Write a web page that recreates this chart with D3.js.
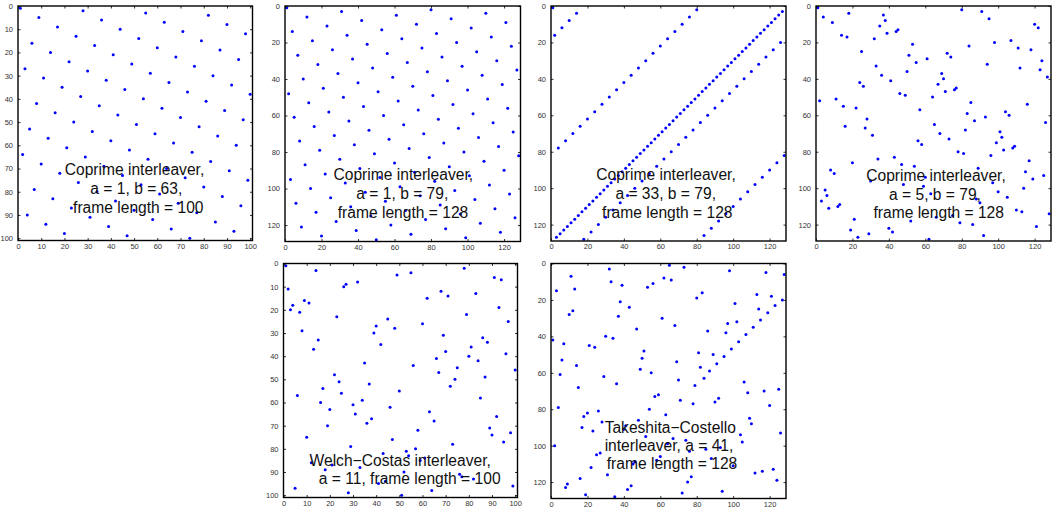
<!DOCTYPE html>
<html><head><meta charset="utf-8">
<script src="https://cdn.jsdelivr.net/npm/d3@7"></script>
<style>
html,body{margin:0;padding:0;background:#fff;}
svg{display:block;}
</style></head><body>
<svg id="chart" width="1056" height="509"></svg>
<script>
// Tick values for the two frame lengths
const ticks100 = [0,10,20,30,40,50,60,70,80,90,100];
const ticks128 = [0,20,40,60,80,100,120];

// Coprime interleaver a=1, b=63, N=100: row of the entry in each column 1..100
const coprime1_63 = [
 1,64,27,90,53,16,79,42,5,68,
 31,94,57,20,83,46,9,72,35,98,
 61,24,87,50,13,76,39,2,65,28,
 91,54,17,80,43,6,69,32,95,58,
 21,84,47,10,73,36,99,62,25,88,
 51,14,77,40,3,66,29,92,55,18,
 81,44,7,70,33,96,59,22,85,48,
 11,74,37,100,63,26,89,52,15,78,
 41,4,67,30,93,56,19,82,45,8,
 71,34,97,60,23,86,49,12,75,38];

// Coprime interleaver a=1, b=79, N=128: row for each column 1..128
const coprime1_79 = [
 1,48,95,14,61,108,27,74,121,40,
 87,6,53,100,19,66,113,32,79,126,
 45,92,11,58,105,24,71,118,37,84,
 3,50,97,16,63,110,29,76,123,42,
 89,8,55,102,21,68,115,34,81,128,
 47,94,13,60,107,26,73,120,39,86,
 5,52,99,18,65,112,31,78,125,44,
 91,10,57,104,23,70,117,36,83,2,
 49,96,15,62,109,28,75,122,41,88,
 7,54,101,20,67,114,33,80,127,46,
 93,12,59,106,25,72,119,38,85,4,
 51,98,17,64,111,30,77,124,43,90,
 9,56,103,22,69,116,35,82];

// Coprime interleaver a=33, b=79, N=128: column for each row 1..128
const coprime33_79 = [
 1,80,127,14,125,76,123,10,121,72,
 119,6,117,68,115,2,113,64,111,126,
 109,60,107,122,105,56,103,118,101,52,
 99,114,97,48,95,110,93,44,91,106,
 89,40,87,102,85,36,83,98,81,32,
 79,94,77,28,75,90,73,24,71,86,
 69,20,67,82,65,16,63,78,61,12,
 59,74,57,8,55,70,53,4,51,66,
 49,128,47,62,45,124,43,58,41,120,
 39,54,37,116,35,50,33,112,31,46,
 29,108,27,42,25,104,23,38,21,100,
 19,34,17,96,15,30,13,92,11,26,
 9,88,7,22,5,84,3,18];

// Coprime interleaver a=5, b=79, N=128: column for each row 1..128
const coprime5_79 = [
 1,80,91,18,37,4,95,38,9,120,
 35,122,45,44,39,14,17,32,107,98,
 53,84,111,118,25,72,51,74,61,124,
 55,94,33,112,123,50,69,36,127,70,
 41,24,67,26,77,76,71,46,49,64,
 11,2,85,116,15,22,57,104,83,106,
 93,28,87,126,65,16,27,82,101,68,
 31,102,73,56,99,58,109,108,103,78,
 81,96,43,34,117,20,47,54,89,8,
 115,10,125,60,119,30,97,48,59,114,
 5,100,63,6,105,88,3,90,13,12,
 7,110,113,128,75,66,21,52,79,86,
 121,40,19,42,29,92,23,62];

// Welch-Costas interleaver a=11, N=100: row for each column 1..100
const welchCostas11 = [
 1,11,20,18,97,57,21,29,16,75,
 17,86,37,3,33,60,54,89,70,63,
 87,48,23,51,56,10,9,99,79,61,
 65,8,88,59,43,69,52,67,30,27,
 95,35,82,94,24,62,76,28,5,55,
 100,90,81,83,4,44,80,72,85,26,
 84,15,64,98,68,41,47,12,31,38,
 14,53,78,50,45,91,92,2,22,40,
 36,93,13,42,58,32,49,34,71,74,
 6,66,19,7,77,39,25,73,96,46];

// Takeshita-Costello interleaver a=41, N=128: row for each column 1..128
const takeshita41 = [
 42,100,15,79,61,53,44,123,121,28,
 7,26,14,56,68,118,90,84,127,82,
 45,112,92,46,105,81,104,87,62,40,
 116,3,10,41,128,66,29,21,12,91,
 89,124,24,122,110,109,36,86,58,52,
 48,95,13,80,60,11,73,108,72,106,
 30,8,83,99,1,9,96,34,54,64,
 75,126,2,97,120,103,117,77,67,19,
 49,57,16,63,102,37,59,107,50,76,
 55,74,101,125,51,38,33,4,47,111,
 22,32,43,94,98,65,39,71,85,88,
 35,115,17,25,31,114,70,5,27,78,
 18,113,23,119,69,93,20,6];

// Panel captions
const caption1 = ["Coprime interleaver,", "a = 1, b = 63,", "frame length = 100"];
const caption2 = ["Coprime interleaver,", "a = 1, b = 79,", "frame length = 128"];
const caption3 = ["Coprime interleaver,", "a = 33, b = 79,", "frame length = 128"];
const caption4 = ["Coprime interleaver,", "a = 5, b = 79,", "frame length = 128"];
const caption5 = ["Welch\u2212Costas interleaver,", "a = 11, frame length = 100"];
const caption6 = ["Takeshita\u2212Costello", "interleaver, a = 41,", "frame length = 128"];

const byColumn = rows => rows.map((r, i) => [i + 1, r]);
const byRow = cols => cols.map((c, i) => [c, i + 1]);

const panels = [
  {left: 18,    top: 6,   size: 234.5, n: 100, ticks: ticks100, pts: byColumn(coprime1_63),
   caption: caption1, tx: [134.5, 136.3, 138.3], ty: [175, 194, 212.5]},
  {left: 285,   top: 6,   size: 235.5, n: 128, ticks: ticks128, pts: byColumn(coprime1_79),
   caption: caption2, tx: [403.3, 402.3, 403], ty: [180, 199, 218]},
  {left: 551,   top: 6,   size: 235,   n: 128, ticks: ticks128, pts: byRow(coprime33_79),
   caption: caption3, tx: [666, 665.7, 667.3], ty: [180, 199, 218]},
  {left: 816,   top: 6,   size: 235,   n: 128, ticks: ticks128, pts: byRow(coprime5_79),
   caption: caption4, tx: [936, 935, 938.7], ty: [181, 199.5, 218]},
  {left: 283.5, top: 263.5, size: 234, n: 100, ticks: ticks100, pts: byColumn(welchCostas11),
   caption: caption5, tx: [400.2, 409.7], ty: [465.5, 484]},
  {left: 551,   top: 263.5, size: 235, n: 128, ticks: ticks128, pts: byColumn(takeshita41),
   caption: caption6, tx: [670.3, 669, 672], ty: [433, 451, 468.5]}
];

const svg = d3.select("#chart");
const tickLen = 2.5;

panels.forEach(p => {
  const x = d3.scaleLinear().domain([0, p.n + 1]).range([p.left, p.left + p.size]);
  const y = d3.scaleLinear().domain([0, p.n + 1]).range([p.top, p.top + p.size]);
  const g = svg.append("g");

  // markers
  g.append("g").selectAll("circle").data(p.pts).join("circle")
    .attr("cx", d => x(d[0])).attr("cy", d => y(d[1]))
    .attr("r", 1.5).attr("fill", "#0000ff");

  // axes with inward ticks on all four sides
  const fmt = d3.format("d");
  const axB = d3.axisBottom(x).tickValues(p.ticks).tickSizeInner(-tickLen).tickSizeOuter(0).tickFormat(fmt).tickPadding(3);
  const axT = d3.axisTop(x).tickValues(p.ticks).tickSizeInner(-tickLen).tickSizeOuter(0).tickFormat("");
  const axL = d3.axisLeft(y).tickValues(p.ticks).tickSizeInner(-tickLen).tickSizeOuter(0).tickFormat(fmt).tickPadding(5);
  const axR = d3.axisRight(y).tickValues(p.ticks).tickSizeInner(-tickLen).tickSizeOuter(0).tickFormat("");

  const bottom = p.top + p.size, right = p.left + p.size;
  [[axB, `translate(0,${bottom})`], [axT, `translate(0,${p.top})`],
   [axL, `translate(${p.left},0)`], [axR, `translate(${right},0)`]].forEach(([ax, tr]) => {
    const a = g.append("g").attr("transform", tr).call(ax);
    a.select(".domain").remove();
    a.selectAll(".tick line").attr("stroke", "#000").attr("stroke-width", 0.8);
    a.selectAll(".tick text").attr("fill", "#333").style("font-family", "'Liberation Sans', Arial, sans-serif").style("font-size", "7.5px");
  });

  // frame
  g.append("rect").attr("x", p.left).attr("y", p.top).attr("width", p.size).attr("height", p.size)
    .attr("fill", "none").attr("stroke", "#000").attr("stroke-width", 1.4);

  // caption
  g.append("g").selectAll("text").data(p.caption).join("text")
    .attr("x", (d, i) => p.tx[i]).attr("y", (d, i) => p.ty[i])
    .attr("text-anchor", "middle")
    .style("font-family", "'Liberation Sans', Arial, sans-serif").style("font-size", "15.6px")
    .attr("fill", "#111").text(d => d);
});
</script>
</body></html>
